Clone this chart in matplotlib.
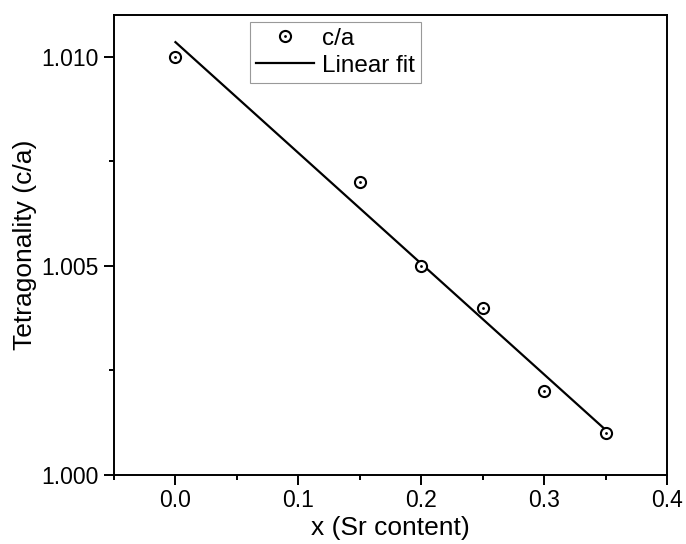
import numpy as np
import matplotlib

matplotlib.use("Agg")
import matplotlib.pyplot as plt
from matplotlib.ticker import MultipleLocator, FormatStrFormatter
from matplotlib.legend_handler import HandlerTuple

# Sr content and measured tetragonality
sr_content = [0.0, 0.15, 0.20, 0.25, 0.30, 0.35]
tetragonality = [1.010, 1.007, 1.005, 1.004, 1.002, 1.001]

plt.rcParams["font.family"] = ["Liberation Sans", "DejaVu Sans"]

fig = plt.figure(figsize=(6.86, 5.44), dpi=100)
ax = fig.add_axes([0.1662, 0.1268, 0.8061, 0.8456])

slope, intercept = np.polyfit(sr_content, tetragonality, 1)
fit_x = np.array([min(sr_content), max(sr_content)])
fit_line, = ax.plot(fit_x, slope * fit_x + intercept, color="black", lw=1.6, zorder=2)

rings, = ax.plot(sr_content, tetragonality, ls="none", marker="o", ms=8, mfc="white",
                 mec="black", mew=1.5, zorder=3)
dots, = ax.plot(sr_content, tetragonality, ls="none", marker="o", ms=2, mfc="black",
                mec="black", mew=0, zorder=4)

ax.set_xlim(-0.05, 0.4)
ax.set_ylim(1.000, 1.011)
ax.xaxis.set_major_locator(MultipleLocator(0.1))
ax.xaxis.set_minor_locator(MultipleLocator(0.05))
ax.yaxis.set_major_locator(MultipleLocator(0.005))
ax.yaxis.set_minor_locator(MultipleLocator(0.0025))
ax.xaxis.set_major_formatter(FormatStrFormatter("%.1f"))
ax.yaxis.set_major_formatter(FormatStrFormatter("%.3f"))

ax.tick_params(which="both", direction="out", width=1.4, labelsize=16.5)
ax.tick_params(which="major", length=7)
ax.tick_params(which="minor", length=3.5)
ax.tick_params(axis="x", pad=3)
ax.tick_params(axis="y", pad=4)
for spine in ax.spines.values():
    spine.set_linewidth(1.4)

ax.set_xlabel("x (Sr content)", fontsize=19, labelpad=3)
ax.set_ylabel("Tetragonality (c/a)", fontsize=19, labelpad=3)

leg = ax.legend([(rings, dots), fit_line], ["c/a", "Linear fit"],
                handler_map={tuple: HandlerTuple(ndivide=1, pad=0)},
                loc="upper left", bbox_to_anchor=(0.246, 0.985), borderaxespad=0,
                fontsize=17.5, fancybox=False, handlelength=2.4, handletextpad=0.3,
                borderpad=0.25, labelspacing=0.2)
leg.get_frame().set_edgecolor("#808080")
leg.get_frame().set_linewidth(0.8)

fig.savefig("out.png", dpi=100)
